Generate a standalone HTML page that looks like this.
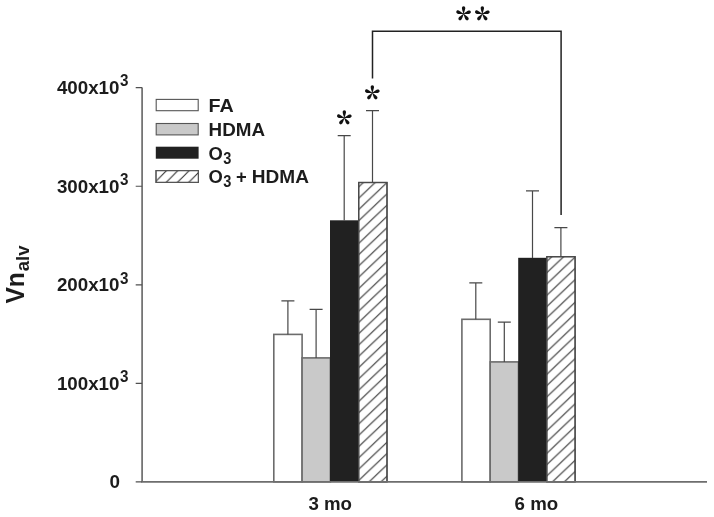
<!DOCTYPE html>
<html>
<head>
<meta charset="utf-8">
<title>Vn alv chart</title>
<style>
html,body{margin:0;padding:0;background:#fff;}
body{width:714px;height:517px;overflow:hidden;}
svg{display:block;}
text{font-family:"Liberation Sans",sans-serif;font-weight:bold;fill:#1c1c1c;}
.ast{font-family:"Noto Serif CJK SC","Noto Serif CJK JP","Liberation Serif",serif;font-weight:900;fill:#111;}
</style>
</head>
<body>
<svg width="714" height="517" viewBox="0 0 714 517">
<defs>
<pattern id="h1" patternUnits="userSpaceOnUse" x="2.10" y="6.47" width="11.88" height="11.29"><path d="M-11.88,22.58 L23.76,-11.29 M-11.88,11.29 L11.88,-11.29 M0.00,22.58 L23.76,0.00" stroke="#2a2a2a" stroke-width="1.05" fill="none"/></pattern>
<pattern id="h2" patternUnits="userSpaceOnUse" x="0.12" y="1.94" width="11.88" height="11.29"><path d="M-11.88,22.58 L23.76,-11.29 M-11.88,11.29 L11.88,-11.29 M0.00,22.58 L23.76,0.00" stroke="#2a2a2a" stroke-width="1.05" fill="none"/></pattern>
<pattern id="h3" patternUnits="userSpaceOnUse" x="7.80" y="1.70" width="11.30" height="11.30"><path d="M-11.30,22.60 L22.60,-11.30 M-11.30,11.30 L11.30,-11.30 M0.00,22.60 L22.60,0.00" stroke="#2a2a2a" stroke-width="1.05" fill="none"/></pattern>
</defs>
<rect x="0" y="0" width="714" height="517" fill="#fff"/>

<!-- bars 3 mo -->
<g stroke="#6c6c6c" stroke-width="1.6">
<rect x="273.8" y="334.4" width="28.3" height="147.4" fill="#fff"/>
<rect x="302.1" y="357.9" width="28.3" height="123.9" fill="#c9c9c9"/>
<rect x="461.9" y="319.3" width="28.3" height="162.5" fill="#fff"/>
<rect x="490.2" y="361.9" width="28.3" height="119.9" fill="#c9c9c9"/>
</g>
<g stroke="none">
<rect x="330.0" y="220.3" width="28.7" height="261.5" fill="#212121"/>
<rect x="518.2" y="257.8" width="28.6" height="224.0" fill="#212121"/>
</g>
<g stroke="#4a4a4a" stroke-width="1.25">
<rect x="358.7" y="182.5" width="28.3" height="299.3" fill="#fff"/>
<rect x="358.7" y="182.5" width="28.3" height="299.3" fill="url(#h1)"/>
<rect x="546.8" y="256.7" width="28.3" height="225.1" fill="#fff"/>
<rect x="546.8" y="256.7" width="28.3" height="225.1" fill="url(#h2)"/>
</g>

<!-- error bars -->
<g stroke="#484848" stroke-width="1.2" fill="none">
<path d="M287.9,334.4 V300.9 M281.4,300.9 H294.4"/>
<path d="M316.1,357.9 V309.3 M309.6,309.3 H322.6"/>
<path d="M344.2,220.5 V135.6 M337.7,135.6 H350.7"/>
<path d="M372.5,182.5 V110.7 M366.0,110.7 H379.0"/>
<path d="M475.8,319.3 V282.8 M469.3,282.8 H482.3"/>
<path d="M504.3,361.9 V322.1 M497.8,322.1 H510.8"/>
<path d="M532.5,258.0 V190.9 M526.0,190.9 H539.0"/>
<path d="M560.9,256.7 V227.6 M554.4,227.6 H567.4"/>
</g>

<!-- bracket -->
<path d="M372.5,78.5 V31.2 H561.1 V214.9" stroke="#222" stroke-width="1.5" fill="none"/>

<!-- axes -->
<g stroke="#6e6e6e" stroke-width="1.7" fill="none">
<path d="M142.1,87.6 V481.9 H707"/>
<path stroke="#505050" stroke-width="1.15" d="M135.7,87.6 H142.1 M135.7,186.2 H142.1 M135.7,284.8 H142.1 M135.7,383.3 H142.1 M135.7,481.9 H142.1"/>
</g>

<!-- y tick labels -->
<g font-size="18.4">
<text><tspan x="56.9" y="93.9" textLength="62.6" lengthAdjust="spacingAndGlyphs">400x10</tspan><tspan x="119.9" y="86.4" font-size="16" textLength="8.45" lengthAdjust="spacingAndGlyphs">3</tspan></text>
<text><tspan x="56.9" y="192.5" textLength="62.6" lengthAdjust="spacingAndGlyphs">300x10</tspan><tspan x="119.9" y="185.0" font-size="16" textLength="8.45" lengthAdjust="spacingAndGlyphs">3</tspan></text>
<text><tspan x="56.9" y="291.1" textLength="62.6" lengthAdjust="spacingAndGlyphs">200x10</tspan><tspan x="119.9" y="283.6" font-size="16" textLength="8.45" lengthAdjust="spacingAndGlyphs">3</tspan></text>
<text><tspan x="56.9" y="389.6" textLength="62.6" lengthAdjust="spacingAndGlyphs">100x10</tspan><tspan x="119.9" y="382.1" font-size="16" textLength="8.45" lengthAdjust="spacingAndGlyphs">3</tspan></text>
<text x="109.6" y="488.2" textLength="10.5" lengthAdjust="spacingAndGlyphs">0</text>
</g>

<!-- x labels -->
<g font-size="18.5">
<text x="308.4" y="510.3" textLength="43.6" lengthAdjust="spacingAndGlyphs">3 mo</text>
<text x="514.6" y="510.3" textLength="43.6" lengthAdjust="spacingAndGlyphs">6 mo</text>
</g>

<!-- y label -->
<g transform="translate(24.2,303.5) rotate(-90)">
<text><tspan x="0" y="0" font-size="26" textLength="31.25" lengthAdjust="spacingAndGlyphs">Vn</tspan><tspan x="32.25" y="5" font-size="18.5">alv</tspan></text>
</g>

<!-- legend -->
<g stroke="#555" stroke-width="1.1">
<rect x="156.2" y="99.4" width="42" height="11.3" fill="#fff"/>
<rect x="156.2" y="123.5" width="42" height="11.4" fill="#c9c9c9"/>
<rect x="155.8" y="146.7" width="42.8" height="12" fill="#212121" stroke="none"/>
<rect x="156" y="170.6" width="42.4" height="11.8" fill="#fff"/>
<rect x="156" y="170.6" width="42.4" height="11.8" fill="url(#h3)"/>
</g>
<g font-size="18.4">
<text x="208.6" y="111.9" textLength="25.2" lengthAdjust="spacingAndGlyphs">FA</text>
<text x="208.6" y="135.5" textLength="56.4" lengthAdjust="spacingAndGlyphs">HDMA</text>
<text><tspan x="208.4" y="159.5" textLength="14.3" lengthAdjust="spacingAndGlyphs">O</tspan><tspan x="223.2" y="163.8" font-size="16" textLength="8.1" lengthAdjust="spacingAndGlyphs">3</tspan></text>
<text><tspan x="208.4" y="183.1" textLength="14.3" lengthAdjust="spacingAndGlyphs">O</tspan><tspan x="223.2" y="187.4" font-size="16" textLength="8.1" lengthAdjust="spacingAndGlyphs">3</tspan> <tspan x="235.9" y="183.1">+</tspan> <tspan x="251.8" y="183.1" textLength="57.1" lengthAdjust="spacingAndGlyphs">HDMA</tspan></text>
</g>

<!-- asterisks -->
<g font-size="32">
<text class="ast" x="336.5" y="137.4">*</text>
<text class="ast" x="364.6" y="112.3">*</text>
<text class="ast" x="455.8" y="33.2">*</text>
<text class="ast" x="474.6" y="33.2">*</text>
</g>
</svg>
</body>
</html>
